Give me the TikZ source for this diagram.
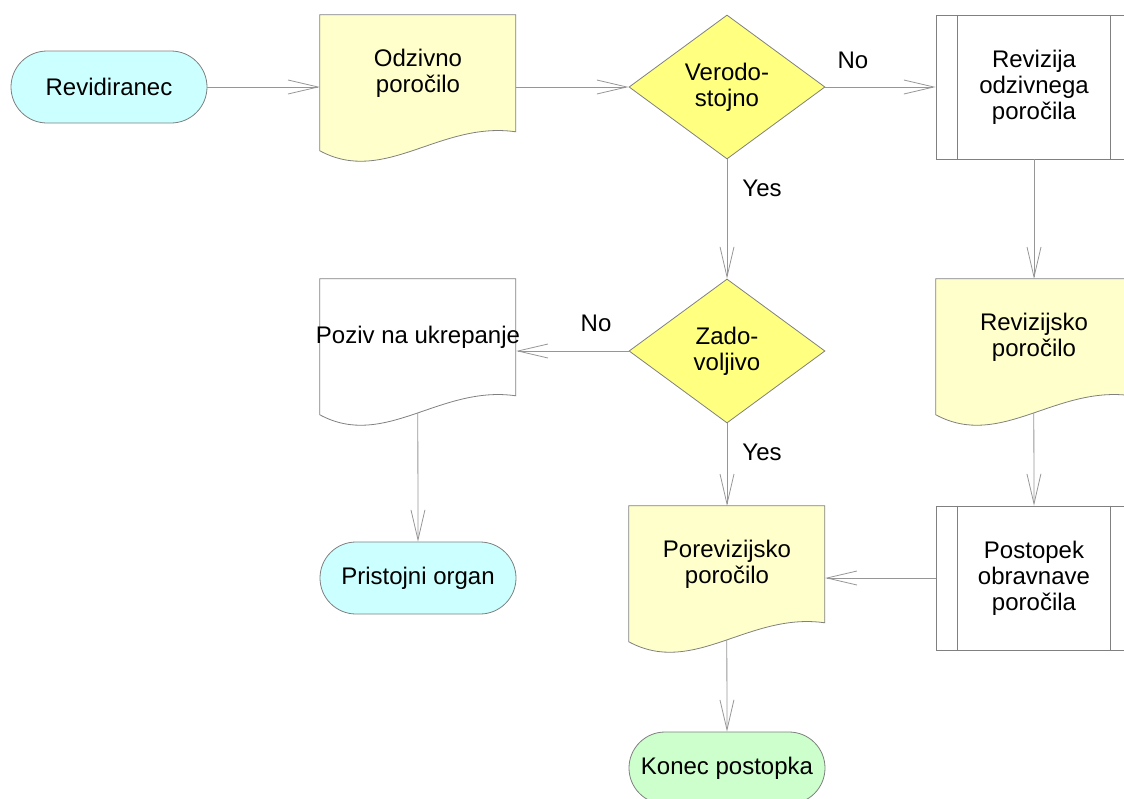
\documentclass[tikz,border=0pt]{standalone}
\usepackage{fontspec}
\setmainfont{Liberation Sans}
\usetikzlibrary{shapes.geometric,shapes.misc,arrows.meta,calc}
\definecolor{termcyan}{RGB}{204,255,255}
\definecolor{termgreen}{RGB}{204,255,204}
\definecolor{docyellow}{RGB}{255,255,204}
\definecolor{decyellow}{RGB}{255,255,128}
\definecolor{bordergray}{RGB}{128,128,128}
\definecolor{linegray}{RGB}{150,150,150}
\newcommand{\docshape}[2]{%
  \begin{scope}[shift={(#1.north west)}]
    \draw[shp,fill=#2] (0,0) -- (196,0) -- (196,117)
      .. controls (120,106) and (65,171) .. (0,136) -- cycle;
    \coordinate (#1-b) at (98,134);
  \end{scope}}
\newcommand{\procbars}[1]{%
  \draw[shp] ([xshift=22pt]#1.north west) -- ([xshift=22pt]#1.south west);
  \draw[shp] ([xshift=-22pt]#1.north east) -- ([xshift=-22pt]#1.south east);}
\begin{document}
\begin{tikzpicture}[x=1pt,y=-1pt,
  font=\fontsize{24}{26}\selectfont,
  shp/.style={draw=bordergray,line width=0.8pt},
  term/.style={shp,rounded rectangle,minimum width=196pt,minimum height=72pt,inner sep=0pt,align=center},
  dec/.style={shp,diamond,fill=decyellow,minimum width=196pt,minimum height=144pt,inner sep=0pt,align=center},
  docbox/.style={rectangle,minimum width=196pt,minimum height=144pt,inner sep=0pt},
  procbox/.style={shp,rectangle,fill=white,minimum width=196pt,minimum height=144pt,inner sep=0pt,align=center},
  txt/.style={align=center,inner sep=0pt},
  lbl/.style={inner sep=0pt},
  conn/.style={draw=linegray,line width=0.8pt,-{Straight Barb[length=30pt,width=14pt]}}]
\useasboundingbox (0,0) rectangle (1124,798);
\clip (0,0) rectangle (1124,798);

% terminators
\node[term,fill=termcyan] (rev) at (109,87) {Revidiranec};
\node[term,fill=termcyan] (pri) at (418,578) {Pristojni organ};
\node[term,fill=termgreen] (kon) at (727,768) {Konec postopka};

% documents
\node[docbox] (odz) at (418,87) {};
\docshape{odz}{docyellow}
\node[txt] (odz-t) at ([yshift=14pt]odz.center) {Odzivno\\poročilo};

\node[docbox] (poz) at (418,351) {};
\docshape{poz}{white}
\node[txt] (poz-t) at ([yshift=14pt]poz.center) {Poziv na ukrepanje};

\node[docbox] (rvp) at (1034,351) {};
\docshape{rvp}{docyellow}
\node[txt] (rvp-t) at ([yshift=14pt]rvp.center) {Revizijsko\\poročilo};

\node[docbox] (por) at (727,578) {};
\docshape{por}{docyellow}
\node[txt] (por-t) at ([yshift=14pt]por.center) {Porevizijsko\\poročilo};

% decisions
\node[dec] (ver) at (727,87) {Verodo-\\stojno};
\node[dec] (zad) at (727,351) {Zado-\\voljivo};

% predefined processes
\node[procbox] (rvz) at (1034,87) {Revizija\\odzivnega\\poročila};
\procbars{rvz}
\node[procbox] (pst) at (1034,578) {Postopek\\obravnave\\poročila};
\procbars{pst}

% connectors
\draw[conn] (rev.east) -- (odz.west);
\draw[conn] (odz.east) -- (ver.west);
\draw[conn] (ver.east) -- node[lbl,pos=0.25,yshift=27pt] {No} (rvz.west);
\draw[conn] (ver.south) -- node[lbl,pos=0.24,xshift=35pt] {Yes} (zad.north);
\draw[conn] (zad.west) -- node[lbl,pos=0.29,yshift=28pt] {No} (poz.east);
\draw[conn] (zad.south) -- node[lbl,pos=0.35,xshift=35pt] {Yes} (por.north);
\draw[conn] (rvz.south) -- (rvp.north);
\draw[conn] (rvp-b) -- (pst.north);
\draw[conn] (pst.west) -- (por.east);
\draw[conn] (poz-b) -- (pri.north);
\draw[conn] (por-b) -- (kon.north);
\end{tikzpicture}
\end{document}
